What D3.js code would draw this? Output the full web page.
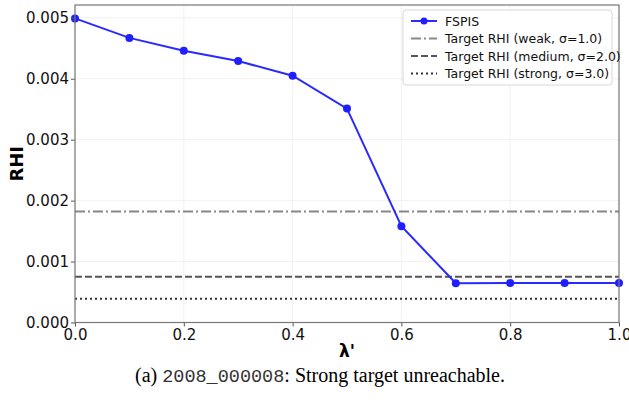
<!DOCTYPE html>
<html>
<head>
<meta charset="utf-8">
<script src="https://cdn.jsdelivr.net/npm/d3@7"></script>
<style>
  body { margin: 0; background: #fff; }
  svg text { font-family: "DejaVu Sans", sans-serif; }
</style>
</head>
<body>
<svg id="chart" width="629" height="403"></svg>
<script>
// data
const lambdas = [0.0, 0.1, 0.2, 0.3, 0.4, 0.5, 0.6, 0.7, 0.8, 0.9, 1.0];
const fspis = [0.00499, 0.00467, 0.00446, 0.00429, 0.00405, 0.00351, 0.00158, 0.000644, 0.000648, 0.000648, 0.000648];
const targets = [
  { label: "Target RHI (weak, σ=1.0)", value: 0.00182, color: "#888888", dash: "10,3,2,3" },
  { label: "Target RHI (medium, σ=2.0)", value: 0.000752, color: "#555555", dash: "7,3" },
  { label: "Target RHI (strong, σ=3.0)", value: 0.000391, color: "#333333", dash: "2,3" }
];
const xTicks = [0, 0.2, 0.4, 0.6, 0.8, 1.0];
const yTicks = [0, 0.001, 0.002, 0.003, 0.004, 0.005];

const svg = d3.select("#chart");
const m = { left: 75, right: 619, top: 5, bottom: 322.5 };

const x = d3.scaleLinear().domain([0, 1]).range([m.left, m.right]);
const y = d3.scaleLinear().domain([0, 0.00521]).range([m.bottom, m.top]);

// grid
const grid = svg.append("g");
grid.selectAll(".gx").data(xTicks).enter().append("line")
  .attr("x1", d => x(d)).attr("x2", d => x(d))
  .attr("y1", m.top).attr("y2", m.bottom)
  .attr("stroke", "#eeeeee").attr("stroke-width", 0.8);
grid.selectAll(".gy").data(yTicks).enter().append("line")
  .attr("x1", m.left).attr("x2", m.right)
  .attr("y1", d => y(d)).attr("y2", d => y(d))
  .attr("stroke", "#eeeeee").attr("stroke-width", 0.8);

// target lines
svg.selectAll(".target").data(targets).enter().append("line")
  .attr("x1", m.left).attr("x2", m.right)
  .attr("y1", d => y(d.value)).attr("y2", d => y(d.value))
  .attr("stroke", d => d.color)
  .attr("stroke-width", 2)
  .attr("stroke-dasharray", d => d.dash);

// FSPIS line
const line = d3.line().x((d, i) => x(lambdas[i])).y(d => y(d));
svg.append("path").datum(fspis)
  .attr("d", line)
  .attr("fill", "none")
  .attr("stroke", "#2a2aff")
  .attr("stroke-width", 2);
svg.selectAll(".pt").data(fspis).enter().append("circle")
  .attr("cx", (d, i) => x(lambdas[i])).attr("cy", d => y(d))
  .attr("r", 4).attr("fill", "#2020ff");

// axes
const xAxis = d3.axisBottom(x).tickValues(xTicks).tickFormat(d3.format(".1f")).tickSize(4).tickPadding(3);
const yAxis = d3.axisLeft(y).tickValues(yTicks).tickFormat(d3.format(".3f")).tickSize(4).tickPadding(2);
const gx = svg.append("g").attr("transform", `translate(0,${m.bottom})`).call(xAxis);
const gy = svg.append("g").attr("transform", `translate(${m.left},0)`).call(yAxis);
[gx, gy].forEach(g => {
  g.select(".domain").remove();
  g.selectAll(".tick line").attr("stroke", "#555");
  g.selectAll(".tick text").attr("font-size", 15).attr("fill", "#111")
    .style("font-family", "DejaVu Sans");
});

// frame
svg.append("rect")
  .attr("x", m.left).attr("y", m.top)
  .attr("width", m.right - m.left).attr("height", m.bottom - m.top)
  .attr("fill", "none").attr("stroke", "#777").attr("stroke-width", 1.2);

// axis labels
svg.append("text").attr("x", (m.left + m.right) / 2).attr("y", 357)
  .attr("text-anchor", "middle").attr("font-size", 17).attr("font-weight", "bold")
  .text("λ'");
svg.append("text").attr("transform", `translate(23,${(m.top + m.bottom) / 2}) rotate(-90)`)
  .attr("text-anchor", "middle").attr("font-size", 18).attr("font-weight", "bold")
  .text("RHI");

// legend
const lg = svg.append("g").attr("transform", "translate(403,10)");
lg.append("rect").attr("width", 209).attr("height", 75).attr("rx", 3)
  .attr("fill", "#fff").attr("fill-opacity", 0.85)
  .attr("stroke", "#d8d8d8");
const items = [{ label: "FSPIS", color: "#2a2aff", dash: null, marker: true }].concat(targets);
items.forEach((d, i) => {
  const yy = 11 + i * 17.5;
  lg.append("line").attr("x1", 8).attr("x2", 34).attr("y1", yy).attr("y2", yy)
    .attr("stroke", d.color).attr("stroke-width", 2)
    .attr("stroke-dasharray", d.dash);
  if (d.marker) lg.append("circle").attr("cx", 21).attr("cy", yy).attr("r", 3.5).attr("fill", "#2020ff");
  lg.append("text").attr("x", 42).attr("y", yy + 4.5)
    .attr("font-size", 12.5).attr("fill", "#111").text(d.label);
});

// caption
const cap = svg.append("text").attr("x", 320).attr("y", 382).attr("text-anchor", "middle")
  .attr("font-size", 20).style("font-family", "Liberation Serif, serif");
cap.append("tspan").text("(a) ");
cap.append("tspan").style("font-family", "Liberation Mono, monospace").attr("font-size", 18.5)
  .attr("fill", "#333").text("2008_000008");
cap.append("tspan").text(": Strong target unreachable.");
</script>
</body>
</html>
